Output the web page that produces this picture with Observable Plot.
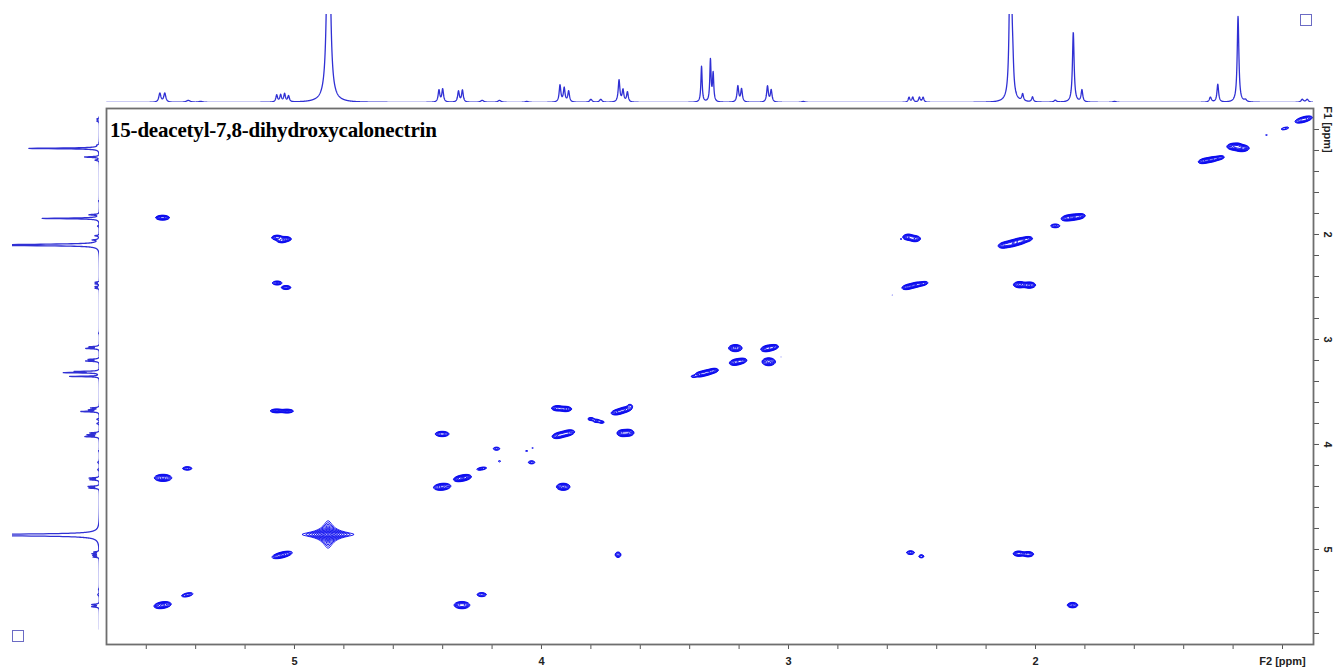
<!DOCTYPE html>
<html><head><meta charset="utf-8">
<script src="https://cdn.jsdelivr.net/npm/d3@7"></script>
<script src="https://cdn.jsdelivr.net/npm/@observablehq/plot@0.6"></script>
<style>
html,body{margin:0;padding:0;background:#fff;}
#wrap{position:relative;width:1337px;height:670px;overflow:hidden;background:#fff;}
#wrap > *{position:absolute;}
.title{font-family:"Liberation Serif","DejaVu Serif",serif;font-weight:bold;font-size:21px;left:110px;top:118px;color:#000;white-space:nowrap;letter-spacing:-0.2px;}
.box{width:12px;height:12px;border:1px solid #6b6bc4;box-sizing:border-box;}
</style></head><body><div id="wrap"></div>
<script>
// ---- axis domains / ticks (ppm) ----
const f2Domain = [5.761, 0.8745];
const f1Domain = [5.905, 0.80];
const xTicks = [1.0,1.2,1.4,1.6,1.8,2.0,2.2,2.4,2.6,2.8,3.0,3.2,3.4,3.6,3.8,4.0,4.2,4.4,4.6,4.8,5.0,5.2,5.4,5.6];
const yTicks = [1.0,1.2,1.4,1.6,1.8,2.0,2.2,2.4,2.6,2.8,3.0,3.2,3.4,3.6,3.8,4.0,4.2,4.4,4.6,4.8,5.0,5.2,5.4,5.6,5.8];
const xTickLabels = [[1,"F2 [ppm]"],[2,"2"],[3,"3"],[4,"4"],[5,"5"]];
const yTickLabels = [[1,"F1 [ppm]"],[2,"2"],[3,"3"],[4,"4"],[5,"5"]];
const titleText = "15-deacetyl-7,8-dihydroxycalonectrin";

// ---- 1D 1H peaks: [ppm, height, half-width (ppm)] ----
const peaks1D = [
 [5.545,9,0.005],[5.525,9,0.005],[5.43,2,0.01],[5.38,1,0.01],
 [5.072,7,0.004],[5.056,7,0.004],[5.040,8,0.004],[5.024,6,0.004],
 [4.862,320,0.006],
 [4.415,12,0.004],[4.400,13,0.004],[4.336,11,0.004],[4.320,12,0.004],
 [4.24,2,0.008],[4.17,2,0.008],[4.06,1,0.008],
 [3.925,17,0.004],[3.908,14,0.004],[3.890,11,0.004],
 [3.80,3,0.006],[3.76,3,0.006],
 [3.686,22,0.004],[3.670,12,0.004],[3.652,10,0.004],
 [3.352,36,0.003],[3.316,42,0.003],[3.305,28,0.003],
 [3.205,16,0.004],[3.190,13,0.004],[3.085,16,0.004],[3.070,12,0.004],
 [2.94,1,0.008],
 [2.512,5,0.004],[2.497,5,0.004],[2.470,5,0.004],[2.455,5,0.004],
 [2.101,260,0.004],[2.092,22,0.004],[2.052,7,0.004],[2.012,5,0.004],
 [1.92,2,0.006],[1.847,70,0.004],[1.812,12,0.004],[1.68,1,0.008],
 [1.292,5,0.005],[1.262,18,0.004],[1.180,86,0.004],[1.150,2,0.006],
 [0.92,3,0.006],[0.90,3,0.006]
];

// ---- COSY cross/diagonal peaks: [F2 ppm, F1 ppm, amplitude, sigmaF2, sigmaF1, correlation] ----
const peaks2D = [
 [5.534,1.840,8,0.014,0.011,0],
 [5.070,2.030,6,0.012,0.012,0],[5.035,2.043,6,0.012,0.012,0],[5.052,2.060,5,0.011,0.010,0],
 [5.070,2.462,4,0.012,0.011,0],[5.034,2.505,4,0.012,0.011,0],
 [5.072,3.680,6,0.014,0.009,0],[5.030,3.682,6,0.014,0.009,0],
 [5.532,4.318,7,0.018,0.017,0],[5.434,4.228,3,0.013,0.011,0],
 [5.050,5.052,7,0.021,0.018,0.6],[5.534,5.530,7,0.018,0.017,0.3],[5.434,5.432,3,0.016,0.014,0.5],
 [3.935,3.655,6,0.013,0.013,0],[3.902,3.662,6,0.013,0.013,0],
 [3.690,3.690,6,0.015,0.015,0.4],[3.662,3.668,6,0.015,0.015,0.4],[3.642,3.632,2,0.008,0.012,0],
 [3.800,3.757,3,0.009,0.009,0],[3.777,3.775,3,0.010,0.010,0],[3.756,3.787,2.5,0.008,0.008,0],
 [4.402,3.900,6,0.015,0.013,0],[3.928,3.912,7,0.015,0.016,0.4],[3.895,3.892,7,0.015,0.016,0.4],
 [3.672,3.892,6,0.012,0.017,0],[3.648,3.888,6,0.012,0.017,0],
 [4.182,4.040,2.2,0.011,0.012,0],[4.060,4.060,1.5,0.006,0.006,0],[4.036,4.035,1.3,0.005,0.005,0],
 [4.040,4.170,2.2,0.011,0.012,0],[4.170,4.160,1.5,0.006,0.008,0],
 [4.242,4.230,3,0.014,0.010,0.5],[4.330,4.325,6,0.014,0.015,0.3],[4.310,4.315,6,0.014,0.015,0.3],
 [4.402,4.403,7,0.018,0.017,0.2],
 [3.912,4.403,7,0.014,0.017,0],[3.690,5.050,3,0.008,0.018,0],
 [4.242,5.430,3,0.013,0.013,0],[4.322,5.530,6,0.017,0.018,0],
 [3.215,3.082,7,0.014,0.017,0],[3.085,3.085,7,0.014,0.016,0.3],[3.062,3.075,5,0.012,0.014,0.3],
 [3.212,3.215,7,0.014,0.016,0.3],[3.190,3.205,5,0.012,0.014,0.3],[3.080,3.212,7,0.014,0.019,0],
 [3.355,3.330,6,0.013,0.014,0.3],[3.330,3.315,6,0.013,0.014,0.3],[3.305,3.298,5,0.012,0.013,0.3],[3.385,3.352,2,0.008,0.008,0],
 [3.170,3.030,1.3,0.004,0.005,0],[3.030,3.170,1.3,0.004,0.005,0],
 [0.914,0.905,6,0.019,0.018,0.6],[0.990,0.990,2,0.014,0.012,0.6],[1.065,1.054,1.4,0.005,0.006,0],
 [1.195,1.163,8,0.015,0.016,0],[1.165,1.178,8,0.015,0.016,0],[1.180,1.150,3,0.008,0.010,0],
 [1.315,1.298,6,0.014,0.014,0.4],[1.285,1.285,6,0.014,0.014,0.4],[1.255,1.270,4,0.012,0.012,0.4],
 [1.870,1.842,6,0.014,0.015,0.3],[1.845,1.835,7,0.014,0.015,0.3],[1.820,1.828,5,0.012,0.014,0.3],[1.920,1.918,3,0.013,0.012,0],
 [2.125,2.100,6,0.014,0.016,0.3],[2.095,2.085,7,0.015,0.017,0.3],[2.065,2.065,7,0.015,0.017,0.3],[2.035,2.045,5,0.013,0.014,0.3],
 [2.515,2.025,6,0.012,0.015,0],[2.488,2.040,6,0.012,0.015,0],[2.545,2.045,1.4,0.004,0.005,0],
 [2.515,2.498,6,0.014,0.014,0.4],[2.485,2.480,6,0.014,0.014,0.4],[2.455,2.468,4,0.012,0.012,0.4],[2.580,2.580,1.4,0.005,0.005,0],
 [2.064,2.478,7,0.013,0.015,0],[2.025,2.482,7,0.013,0.015,0],
 [2.506,5.030,3,0.011,0.012,0],[2.462,5.065,2.5,0.008,0.011,0],
 [2.068,5.040,6,0.012,0.013,0],[2.030,5.045,6,0.012,0.013,0],
 [1.850,5.530,5,0.012,0.014,0]
];
// strong singlet (Lorentzian line shape): [F2, F1, amplitude, widthF2, widthF1]
const strongPeaks2D = [[4.864,4.857,40,0.017,0.021]];
const contourLevels = [1,1.35,1.8,2.45,3.3,4.5,6,8.1,11,15,20,27,36];

// ---- helpers ----
const G = peaks2D.map(([x,y,a,sx,sy,r]) => ({x,y,a,sx,sy,r,k:1/(2*(1-r*r))}));
function intensity2D(x, y) {
  let s = 0;
  for (const p of G) {
    const u = (x - p.x) / p.sx; if (u > 6 || u < -6) continue;
    const v = (y - p.y) / p.sy; if (v > 6 || v < -6) continue;
    s += p.a * Math.exp(-p.k * (u*u - 2*p.r*u*v + v*v));
  }
  for (const [cx,cy,a,gx,gy] of strongPeaks2D) {
    const u = (x - cx) / gx, v = (y - cy) / gy;
    s += a / ((1 + u*u) * (1 + v*v));
  }
  return s;
}
const grid = d3.range(f2Domain[1], f2Domain[0], 0.0008);
const spectrum = grid.map(ppm => {
  let i = 0;
  for (const [c,h,w] of peaks1D) { const u = (ppm - c) / w; i += h / (1 + u*u); }
  return {ppm, i};
});

const wrap = document.getElementById("wrap");
const font = {fontFamily:"'Liberation Sans', Arial, sans-serif", fontSize:"11px", fontWeight:"bold"};

// ---- main 2D plot ----
const mainPlot = Plot.plot({
  width: 1337, height: 670,
  marginLeft: 106, marginRight: 24, marginTop: 108, marginBottom: 26,
  style: {...font, background: "transparent", overflow: "visible"},
  x: {domain: f2Domain, axis: null},
  y: {domain: f1Domain, axis: null},
  marks: [
    Plot.contour({
      x1: f2Domain[0], x2: f2Domain[1], y1: f1Domain[1], y2: f1Domain[0],
      value: intensity2D, thresholds: contourLevels, pixelSize: 1,
      fill: "none", stroke: "#0a0aee", strokeWidth: 0.9, clip: true
    }),
    Plot.axisX(xTicks, {anchor: "bottom", tickSize: 5, tickFormat: () => "", stroke: "#555"}),
    Plot.text(xTickLabels, {x: d => d[0], y: f1Domain[0], text: d => d[1], dy: 17, fill: "#222", fontWeight: "bold"}),
    Plot.axisY(yTicks, {anchor: "right", tickSize: 5, tickFormat: () => "", stroke: "#555"}),
    Plot.text(yTickLabels, {x: f2Domain[1], y: d => d[0], text: d => d[1], rotate: 90, dx: 14, fill: "#222", fontWeight: "bold", textAnchor: "middle"}),
    Plot.frame({stroke: "#6e6e6e", strokeWidth: 1.8})
  ]
});
mainPlot.style.left = "0px"; mainPlot.style.top = "0px";
wrap.appendChild(mainPlot);

// ---- top 1D projection (F2) ----
const topPlot = Plot.plot({
  width: 1337, height: 108,
  marginLeft: 106, marginRight: 24, marginTop: 14, marginBottom: 6,
  style: {background: "transparent"},
  x: {domain: f2Domain, axis: null},
  y: {domain: [0, 88], axis: null},
  marks: [Plot.line(spectrum, {x: "ppm", y: "i", stroke: "#3030d4", strokeWidth: 1.3, clip: true})]
});
topPlot.style.left = "0px"; topPlot.style.top = "0px";
wrap.appendChild(topPlot);

// ---- left 1D projection (F1) ----
const leftPlot = Plot.plot({
  width: 106, height: 670,
  marginLeft: 12, marginRight: 7, marginTop: 108, marginBottom: 26,
  style: {background: "transparent"},
  x: {domain: [87, 0], axis: null},
  y: {domain: f1Domain, axis: null},
  marks: [Plot.line(spectrum, {x: d => d.i * 0.82, y: "ppm", stroke: "#3030d4", strokeWidth: 1.3, clip: true})]
});
leftPlot.style.left = "0px"; leftPlot.style.top = "0px";
wrap.appendChild(leftPlot);

// ---- title and corner glyphs ----
const titleDiv = document.createElement("div"); titleDiv.className = "title"; titleDiv.textContent = titleText; wrap.appendChild(titleDiv);
const b1 = document.createElement("div"); b1.className = "box"; b1.style.left = "1300px"; b1.style.top = "14px"; wrap.appendChild(b1);
const b2 = document.createElement("div"); b2.className = "box"; b2.style.left = "12px"; b2.style.top = "630px"; wrap.appendChild(b2);
</script>
</body></html>
